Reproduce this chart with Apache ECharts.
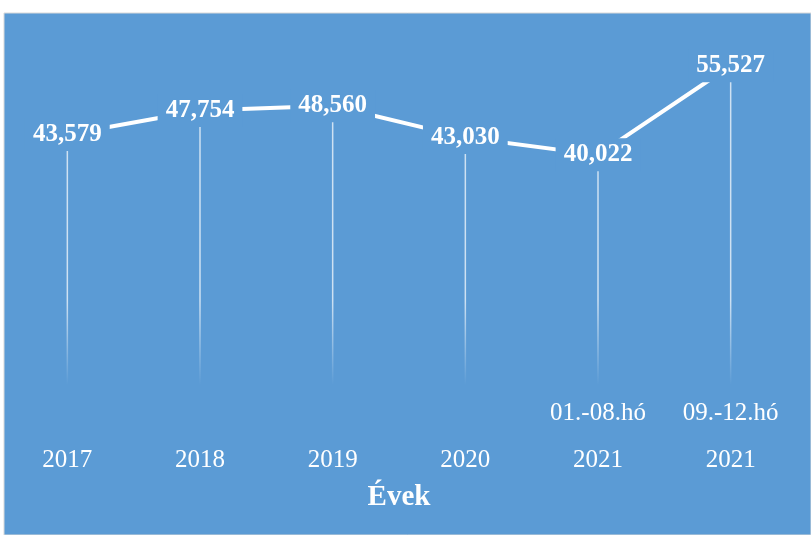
<!DOCTYPE html>
<html>
<head>
<meta charset="utf-8">
<script src="https://cdn.jsdelivr.net/npm/echarts@6/dist/echarts.min.js"></script>
<style>html,body{margin:0;padding:0;background:#fff;}#c{width:811px;height:535px;}</style>
</head>
<body>
<div id="c"></div>
<script>
var years = ["2017", "2018", "2019", "2020", "2021", "2021"];
var periods = ["", "", "", "", "01.-08.hó", "09.-12.hó"];
var values = [43579, 47754, 48560, 43030, 40022, 55527];
var axisName = "Évek";

var BLUE = "#5B9BD5";
var cats = years.map(function (y, i) { return periods[i] + "\n" + y; });

var chart = echarts.init(document.getElementById("c"));
chart.setOption({
  backgroundColor: "#ffffff",
  animation: false,
  graphic: [{
    type: "rect", z: -10, silent: true,
    shape: { x: 4, y: 13, width: 807, height: 522 },
    style: { fill: BLUE, stroke: "#d9d9d9", lineWidth: 1 }
  }],
  grid: { left: 1, right: 14, top: 40, bottom: 150, containLabel: false },
  xAxis: {
    type: "category",
    data: cats,
    boundaryGap: true,
    axisLine: { show: false },
    axisTick: { show: false },
    axisLabel: {
      color: "#ffffff",
      fontFamily: "Liberation Serif",
      fontSize: 25,
      lineHeight: 47,
      margin: 5,
      interval: 0
    },
    name: axisName,
    nameLocation: "middle",
    nameGap: 98,
    nameMoveOverlap: false,
    nameTextStyle: {
      color: "#ffffff",
      fontFamily: "Liberation Serif",
      fontWeight: "bold",
      fontSize: 29
    }
  },
  yAxis: {
    type: "value",
    min: 0,
    max: 60000,
    show: false,
    splitLine: { show: false }
  },
  series: [
    {
      type: "bar",
      data: values,
      barWidth: 1.5,
      z: 1,
      itemStyle: {
        color: new echarts.graphic.LinearGradient(0, 300, 0, 385, [
          { offset: 0, color: "rgba(255,255,255,0.7)" },
          { offset: 1, color: "rgba(255,255,255,0)" }
        ], true)
      },
      silent: true
    },
    {
      type: "line",
      data: values,
      z: 3,
      symbol: "circle",
      symbolSize: 1,
      showSymbol: true,
      itemStyle: { color: "rgba(255,255,255,0)" },
      lineStyle: { color: "#ffffff", width: 4 },
      label: {
        show: true,
        position: "inside",
        color: "#ffffff",
        fontFamily: "Liberation Serif",
        fontWeight: "bold",
        fontSize: 25,
        backgroundColor: BLUE,
        padding: [4, 8, 4, 8],
        formatter: function (p) {
          return p.value.toString().replace(/\B(?=(\d{3})+(?!\d))/g, ",");
        }
      }
    }
  ]
});
</script>
</body>
</html>
